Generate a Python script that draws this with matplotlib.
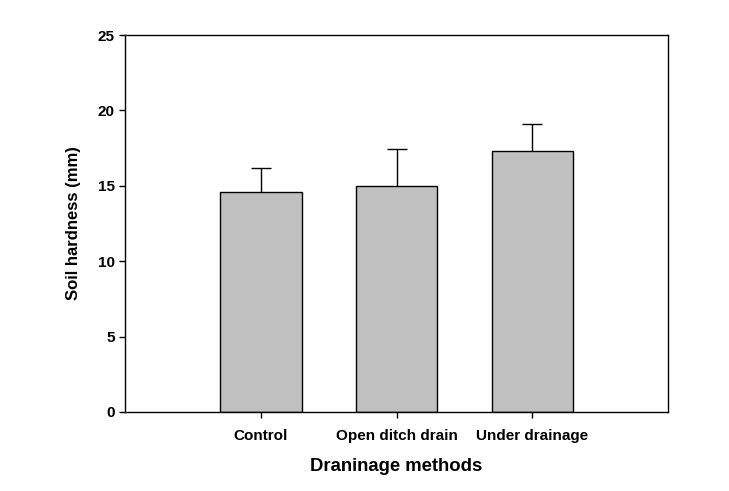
import matplotlib
matplotlib.use("Agg")
import matplotlib.pyplot as plt

# Soil hardness by drainage method
methods = ["Control", "Open ditch drain", "Under drainage"]
hardness = [14.56, 14.96, 17.33]
hardness_err = [1.59, 2.45, 1.79]

plt.rcParams["font.family"] = ["Liberation Sans", "DejaVu Sans"]
plt.rcParams["font.weight"] = "bold"

fig = plt.figure(figsize=(7.29, 4.91), dpi=100)
ax = fig.add_axes([0.1715, 0.161, 0.745, 0.7677])

positions = range(1, len(methods) + 1)
bars = ax.bar(positions, hardness, width=0.6, color="#c0c0c0", edgecolor="black", linewidth=1.0,
              yerr=[[0] * len(hardness_err), hardness_err],
              error_kw=dict(ecolor="black", elinewidth=1.0, capsize=7, capthick=1.0))
# only the upper cap is shown
bars.errorbar.lines[1][0].set_visible(False)

ax.set_xlim(0, 4)
ax.set_ylim(0, 25)
ax.set_yticks([0, 5, 10, 15, 20, 25])
ax.set_xticks(list(positions))
ax.set_xticklabels(methods)
for s in ax.spines.values():
    s.set_linewidth(1.0)
ax.tick_params(axis="both", direction="out", length=4, width=1.0, labelsize=11)
ax.tick_params(axis="x", pad=8)
ax.set_xlabel("Draninage methods", fontsize=13.3, fontweight="bold", labelpad=11)
ax.set_ylabel("Soil hardness (mm)", fontsize=12, fontweight="bold", labelpad=12)

fig.savefig("out.png", dpi=100)
